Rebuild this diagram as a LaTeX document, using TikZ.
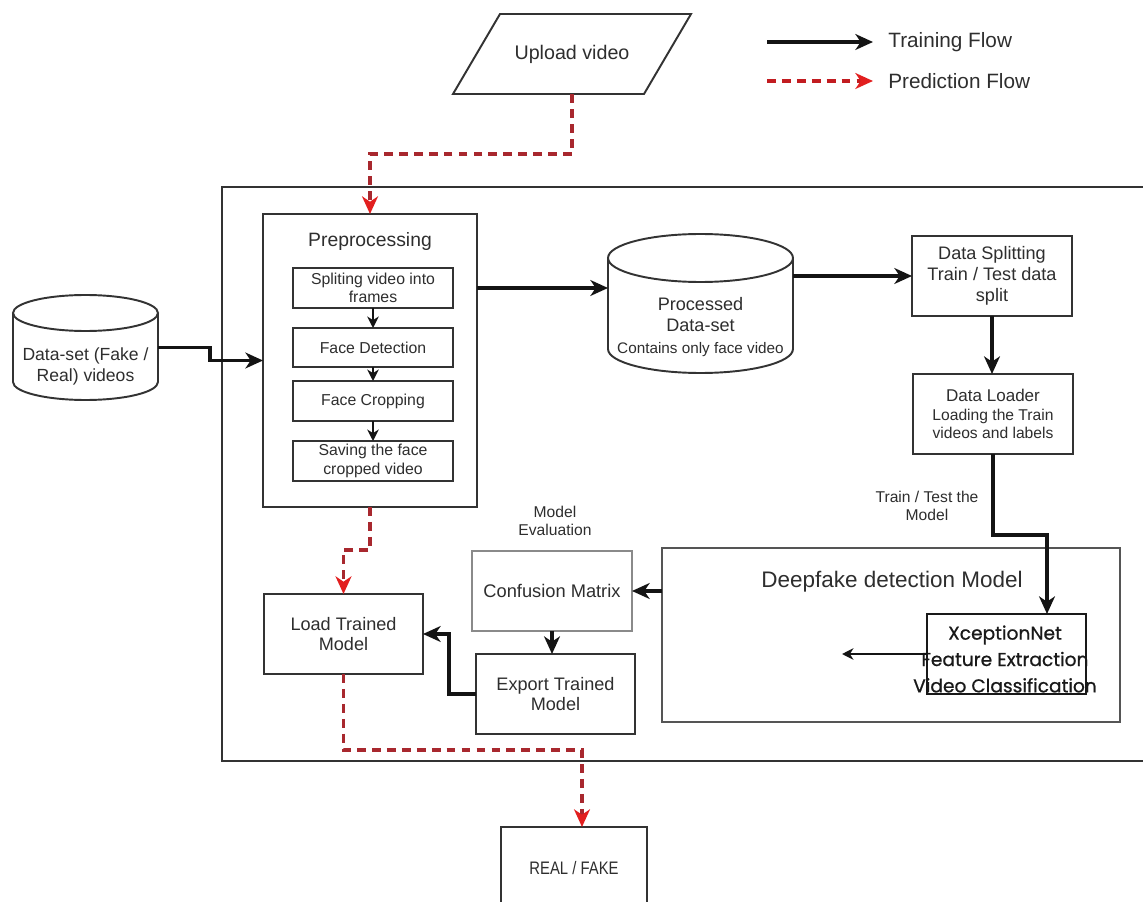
\documentclass[tikz,border=0pt]{standalone}
\usepackage{fontspec}
\usepackage{graphicx}
\setmainfont{Liberation Sans}
\newfontfamily\xfont{Poppins}[FakeBold=0.8]
\usetikzlibrary{arrows.meta}
\definecolor{ink}{HTML}{2E2E2E}
\definecolor{edge}{HTML}{333333}
\definecolor{predline}{HTML}{A8282E}
\definecolor{predtip}{HTML}{E21F1F}
\definecolor{evalgray}{HTML}{8A8A8A}
\definecolor{modelgray}{HTML}{555555}
\definecolor{flowink}{HTML}{141414}

\begin{document}
\begin{tikzpicture}[x=0.02cm,y=-0.02cm,
  sz/.style 2 args={minimum width=#1*0.02cm, minimum height=#2*0.02cm},
  blk/.style={draw=edge, line width=1.1pt, inner sep=0pt, outer sep=0pt, text=ink, align=center},
  lbl/.style={text=ink, align=center, inner sep=0pt},
  cyl/.style={draw=edge, line width=1.1pt},
  trainflow/.style={draw=flowink, line width=1.8pt, -{Stealth[length=10pt,width=9pt,inset=3pt]}},
  trainthin/.style={draw=flowink, line width=1.1pt, -{Stealth[length=6.5pt,width=6.5pt,inset=2pt]}},
  predflow/.style={draw=predline, line width=1.8pt, dash pattern=on 5pt off 3.5pt,
    -{Stealth[length=10pt,width=9pt,inset=3pt,color=predtip]}},
]
\useasboundingbox (0,0) rectangle (1143,902);
\clip (0,0) rectangle (1143,902);
\fill[white] (0,0) rectangle (1143,902);

% system frame (runs off the right edge)
\node[draw=edge, line width=1.2pt, inner sep=0pt, outer sep=0pt, sz={938}{574}] (system) at (691,474) {};

% legend
\coordinate (lt1) at (767,42);
\coordinate (lt2) at (873,42);
\coordinate (lp1) at (767,81);
\coordinate (lp2) at (873,81);
\node[lbl, anchor=west, font=\fontsize{11.8}{14}\selectfont] (legtrain) at (888,42) {Training Flow};
\node[lbl, anchor=west, font=\fontsize{11.8}{14}\selectfont] (legpred) at (888,81) {Prediction Flow};
\draw[trainflow] (lt1) -- (lt2);
\draw[predflow, draw=predline!70!red] (lp1) -- (lp2);

% upload input (parallelogram)
\draw[cyl] (500,14) -- (691,14) -- (644,94) -- (453,94) -- cycle;
\node[lbl, sz={191}{80}, font=\fontsize{11.2}{13}\selectfont] (upload) at (572,54) {Upload video};

% raw data-set cylinder
\node[inner sep=0pt, outer sep=0pt, sz={145}{105}] (ds) at (85.5,347.5) {};
\draw[cyl, fill=white] (13,313) -- (13,382) arc[start angle=180,end angle=360,x radius=1.45cm,y radius=0.36cm] -- (158,313);
\draw[cyl] (85.5,313) ellipse[x radius=1.45cm, y radius=0.36cm];
\node[lbl, font=\fontsize{10}{12}\selectfont] (dstxt) at (85.5,366) {Data-set (Fake /\\Real) videos};

% preprocessing block
\node[blk, sz={214}{293}] (pre) at (370,360.5) {};
\node[lbl, font=\fontsize{11}{13}\selectfont] (pretitle) at (370,242) {Preprocessing};
\node[blk, sz={160}{40}, font=\fontsize{9}{10.5}\selectfont] (b1) at (373,288) {Spliting video into\\frames};
\node[blk, sz={160}{39}, font=\fontsize{9}{10.5}\selectfont] (b2) at (373,347.5) {Face Detection};
\node[blk, sz={160}{40}, font=\fontsize{9}{10.5}\selectfont] (b3) at (373,401) {Face Cropping};
\node[blk, sz={160}{40}, font=\fontsize{9}{10.5}\selectfont] (b4) at (373,461) {Saving the face\\cropped video};
\draw[trainthin] (b1.south) -- (b2.north);
\draw[trainthin] (b2.south) -- (b3.north);
\draw[trainthin] (b3.south) -- (b4.north);

% processed data-set cylinder
\node[inner sep=0pt, outer sep=0pt, sz={185}{139}] (proc) at (700.5,303.5) {};
\draw[cyl] (608,258) -- (608,349) arc[start angle=180,end angle=360,x radius=1.85cm,y radius=0.48cm] -- (793,258);
\draw[cyl] (700.5,258) ellipse[x radius=1.85cm, y radius=0.48cm];
\node[lbl, font=\fontsize{10.3}{12}\selectfont] (proctxt) at (700.5,327)
  {Processed\\Data-set\\{\fontsize{8.7}{10}\selectfont Contains only face video}};

% splitting and loading
\node[blk, sz={160}{80}, font=\fontsize{10.3}{11.9}\selectfont] (split) at (992,276)
  {Data Splitting\\Train / Test data\\split};
\node[blk, sz={160}{80}, font=\fontsize{8.9}{10.5}\selectfont] (loader) at (993,414)
  {{\fontsize{9.7}{10.5}\selectfont Data Loader}\\Loading the Train\\videos and labels};
\node[lbl, font=\fontsize{8.9}{10.2}\selectfont] (ttlbl) at (927,506) {Train / Test the\\Model};

% detection model
\node[blk, draw=modelgray, line width=1.3pt, sz={458}{174}] (deep) at (891,635) {};
\node[lbl, font=\fontsize{12.8}{15}\selectfont] (deeptitle) at (892,582) {Deepfake detection Model};
\node[lbl, font=\xfont\fontsize{10.6}{15}\selectfont, text=black!90] (xceptxt) at (1005,659)
  {XceptionNet\\Feature Extraction\\Video Classification};
\node[draw=black!90, line width=1pt, inner sep=0pt, outer sep=0pt, sz={159}{80}] (xcep) at (1006.5,654) {};
\coordinate (featout) at (842,654);

% evaluation and export
\node[lbl, font=\fontsize{8.9}{9.8}\selectfont] (evallbl) at (555,521) {Model\\Evaluation};
\node[blk, draw=evalgray, line width=1.6pt, sz={160}{80}, font=\fontsize{10.4}{12}\selectfont] (cm) at (552,591) {Confusion Matrix};
\node[blk, sz={159}{80}, font=\fontsize{10.3}{11.5}\selectfont] (exp) at (555.5,694) {Export Trained\\Model};
\node[blk, sz={159}{80}, font=\fontsize{10.3}{11.5}\selectfont] (load) at (343.5,634) {Load Trained\\Model};

% result
\node[blk, sz={146}{95}] (real) at (574,874.5) {};
\node[lbl, font=\fontsize{10.3}{12}\selectfont] (realtxt) at (574,868) {\scalebox{0.82}[1]{REAL / FAKE}};

% training flow
\draw[trainflow] (ds.east) -- (210,347.5) |- (pre.west);
\draw[trainflow] (pre.east |- b1.center) -- (proc.west |- b1.center);
\draw[trainflow] (proc.east |- split.west) -- (split.west);
\draw[trainflow] (split.south) -- (split.south |- loader.north);
\draw[trainflow] (loader.south) -- (993,535) -- (1047,535) -- (1047,0 |- xcep.north);
\draw[draw=flowink, line width=1pt, -{Stealth[length=6.5pt,width=6.5pt,inset=2pt]}] (xcep.west) -- (featout);
\draw[trainflow] (deep.west |- cm.east) -- (cm.east);
\draw[trainflow] (cm.south) -- (cm.south |- exp.north);
\draw[trainflow] (exp.west) -- (449,694) |- (load.east);

% prediction flow
\draw[predflow] (upload.south) -- (572,154) -| (pre.north);
\draw[predflow] (pre.south) -- (370,550) -| (load.north);
\draw[predflow] (load.south) -- (343.5,750) -| (582,0 |- real.north);
\end{tikzpicture}
\end{document}
